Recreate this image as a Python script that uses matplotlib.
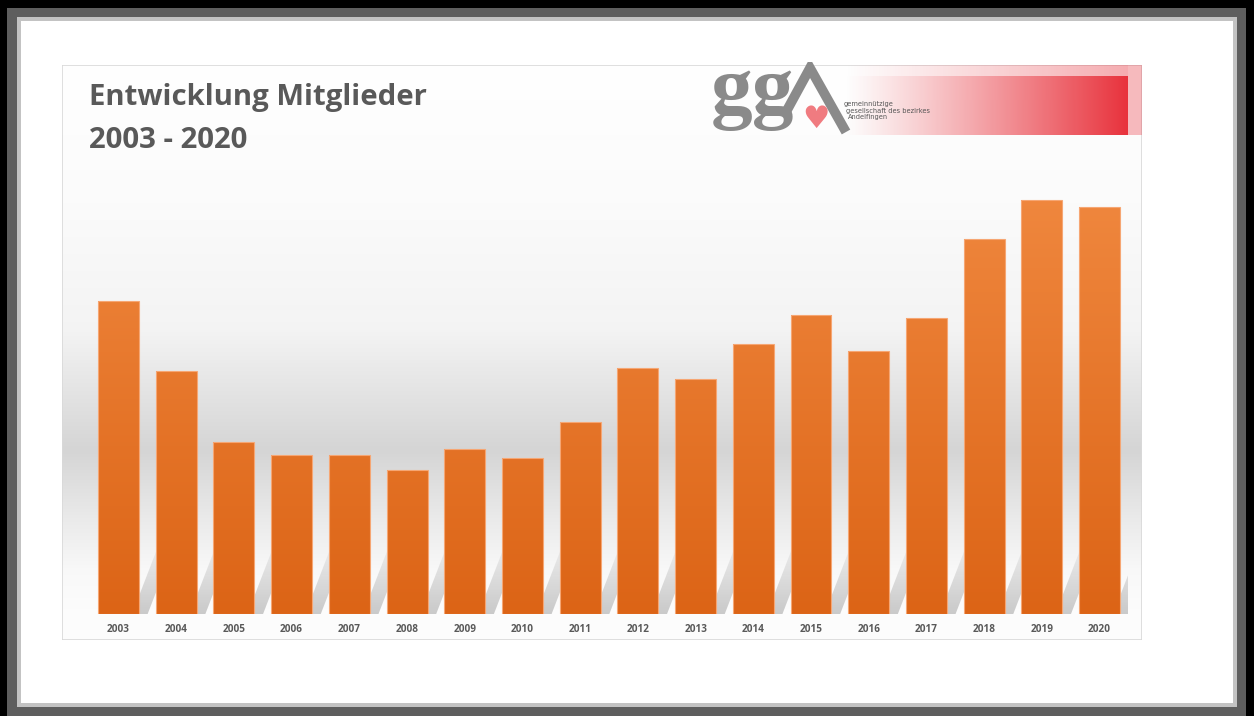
import numpy as np
import matplotlib
matplotlib.use("Agg")
import matplotlib.pyplot as plt
from matplotlib.patches import Rectangle, PathPatch
from matplotlib.path import Path
from matplotlib.colors import to_rgb

# ---------------- data ----------------
years = ["2003", "2004", "2005", "2006", "2007", "2008", "2009", "2010", "2011",
         "2012", "2013", "2014", "2015", "2016", "2017", "2018", "2019", "2020"]
mitglieder = [313, 243, 172, 159, 159, 144, 165, 156, 192,
              246, 235, 270, 299, 263, 296, 375, 414, 407]
title_lines = ["Entwicklung Mitglieder", "2003 - 2020"]
logo_lines = ["gemeinnützige", "gesellschaft des bezirkes", "Andelfingen"]

W, H = 1254, 716
fig = plt.figure(figsize=(W / 100, H / 100), dpi=100)
fig.patch.set_facecolor("black")


def fr(x0, y0, x1, y1):
    """pixel box -> figure rect"""
    return [x0 / W, 1 - y1 / H, (x1 - x0) / W, (y1 - y0) / H]


def frect(x0, y0, x1, y1, color, z=-10, **kw):
    r = Rectangle((x0 / W, 1 - y1 / H), (x1 - x0) / W, (y1 - y0) / H,
                  transform=fig.transFigure, facecolor=color, zorder=z, **kw)
    fig.add_artist(r)
    return r


# outer frame
frect(7, 8, 1246, 730, "#5e5e5e", z=-12)
frect(17, 17, 1237, 707, "#c3c3c3", z=-11)
frect(21, 21, 1233, 703, "#ffffff", z=-10)

# chart panel background with vertical gradient
px0, py0, px1, py1 = 62, 65, 1142, 640
bg = fig.add_axes(fr(px0, py0, px1, py1))
bg.set_zorder(-5)
bg.set_axis_off()
rows = np.arange(py0, py1)
stops_y = [65, 200, 330, 450, 520, 570, 614, 640]
stops_v = [1.00, 0.985, 0.955, 0.835, 0.92, 0.975, 0.99, 0.99]
vals = np.interp(rows, stops_y, stops_v)
grad = np.repeat(vals[:, None], 2, axis=1)
img = np.dstack([grad, grad, grad])
bg.imshow(img, aspect="auto", extent=[0, 1, 0, 1], origin="upper")
bg.set_xlim(0, 1)
bg.set_ylim(0, 1)
bg.add_patch(Rectangle((0, 0), 1, 1, transform=bg.transAxes, fill=False,
                       edgecolor="#d9d9d9", linewidth=1.2, zorder=5))

# bar axes
n = len(years)
ax = fig.add_axes(fr(89.65, 155, 1128.4, 614))
ax.set_xlim(-0.5, n - 0.5)
ax.set_ylim(0, 459)
ax.patch.set_visible(False)
for s in ax.spines.values():
    s.set_visible(False)
ax.set_yticks([])

x = np.arange(n)
bw = 0.71
bars = ax.bar(x, mitglieder, width=bw, color="#e8752a",
              edgecolor="#f6a673", linewidth=0.8, zorder=3)

# shadow bands behind bars (slanted reflection)
verts, codes = [], []
sh_h = 75
for xi in x:
    xr = xi + bw / 2
    poly = [(xr - 0.12, 0), (xr + 0.15, 0), (xr + 0.15 + 0.5, sh_h),
            (xr - 0.12 + 0.5, sh_h), (xr - 0.12, 0)]
    verts += poly
    codes += [Path.MOVETO, Path.LINETO, Path.LINETO, Path.LINETO, Path.CLOSEPOLY]
shadow_path = Path(verts, codes)
sp = PathPatch(shadow_path, facecolor="none", edgecolor="none", transform=ax.transData)
ax.add_patch(sp)
ny = 100
a = (np.linspace(1.0, 0.0, ny) ** 0.8 * 0.6)[:, None]  # bottom -> top
sh_img = np.zeros((ny, 2, 4))
sh_img[..., 0:3] = 0.66
sh_img[..., 3] = np.repeat(a, 2, axis=1)
im = ax.imshow(sh_img, extent=[-0.5, n + 0.5, 0, sh_h], origin="lower",
               aspect="auto", zorder=1, interpolation="bilinear")
im.set_clip_path(sp)

# gradient over bars
c_top = np.array(to_rgb("#f0883f"))
c_bot = np.array(to_rgb("#dc6416"))
gy = np.linspace(0, 1, 200)[:, None, None]
bar_grad = c_bot + (c_top - c_bot) * gy
bar_grad = np.repeat(bar_grad, 2, axis=1)
for b in bars:
    gi = ax.imshow(bar_grad, extent=[b.get_x(), b.get_x() + b.get_width(), 0, 430],
                   origin="lower", aspect="auto", zorder=3.5)
    gi.set_clip_path(b)
for b in bars:
    b.set_facecolor("none")
    b.set_zorder(4)
ax.set_xlim(-0.5, n - 0.5)
ax.set_ylim(0, 459)

ax.set_xticks(x)
ax.set_xticklabels(years, fontsize=7.2, fontweight="bold", color="#595959",
                   family="Open Sans")
ax.tick_params(axis="x", length=0, pad=7.5)

# title
fig.text(89 / W, 1 - 105.5 / H, title_lines[0], fontsize=21.2, fontweight="bold",
         color="#595959", family="Open Sans", va="baseline", ha="left")
fig.text(89 / W, 1 - 148 / H, title_lines[1], fontsize=21.2, fontweight="bold",
         color="#595959", family="Open Sans", va="baseline", ha="left")

# logo
lg = fig.add_axes(fr(700, 62, 1145, 140))
lg.set_axis_off()
cols = np.arange(700, 1145)
red = np.array(to_rgb("#e8313b"))
logo_img = np.ones((140 - 62, len(cols), 4))
logo_img[..., 3] = 0
t_main = np.clip((cols - 845) / (1128 - 845), 0, 1)
t_top = np.clip((cols - 845) / (1128 - 845), 0, 1) * 0.4
for j, cx in enumerate(cols):
    if cx < 1128:
        logo_img[76 - 62:135 - 62, j, :3] = red
        logo_img[76 - 62:135 - 62, j, 3] = t_main[j] ** 1.1
        logo_img[65 - 62:76 - 62, j, :3] = red
        logo_img[65 - 62:76 - 62, j, 3] = t_top[j]
    elif cx < 1142:
        logo_img[65 - 62:135 - 62, j, :3] = red
        logo_img[65 - 62:135 - 62, j, 3] = 0.33
lg.imshow(logo_img, extent=[700, 1145, 140, 62], aspect="auto", zorder=1)
lg.set_xlim(700, 1145)
lg.set_ylim(140, 62)
lg.text(711, 113, "gg", fontsize=60, fontweight="bold", family="Liberation Serif",
        color="#8a8a8a", va="baseline", ha="left", zorder=3)
lg.plot([786, 810, 846], [112, 68, 132], color="#8a8a8a", lw=7,
        solid_joinstyle="miter", solid_capstyle="butt", zorder=3)
lg.text(816, 120, "\u2665", fontsize=22, color="#f07b80", family="DejaVu Sans",
        ha="center", va="center", zorder=4)
for i, (line, dx) in enumerate(zip(logo_lines, [844, 846, 848])):
    lg.text(dx, 104 + i * 6.5, line, fontsize=4.8, color="#555555",
            family="DejaVu Sans", va="center", ha="left", zorder=3)

fig.savefig("out.png", dpi=100, facecolor=fig.get_facecolor())
